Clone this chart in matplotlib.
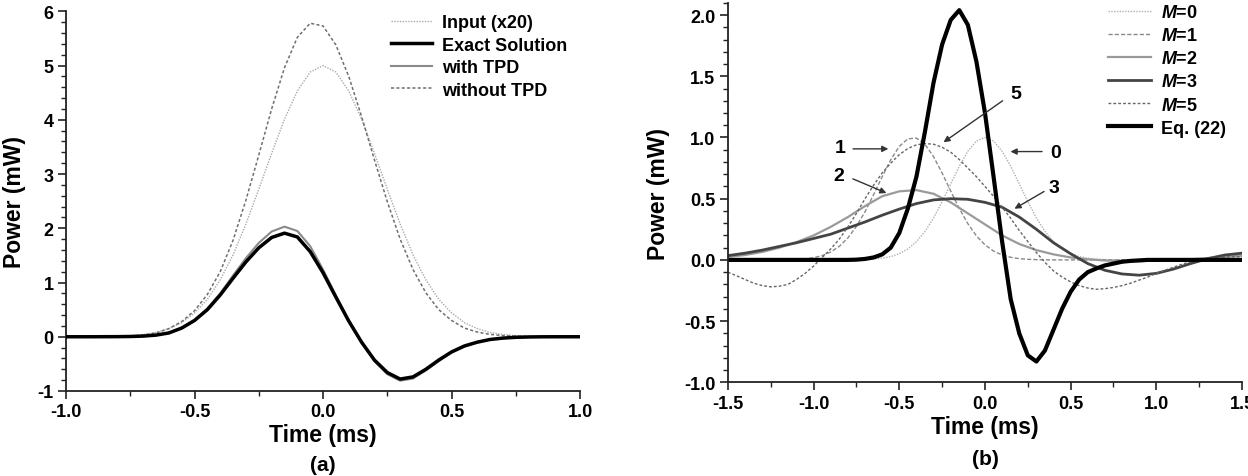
import matplotlib
matplotlib.use('Agg')
import matplotlib.pyplot as plt
from matplotlib.ticker import MultipleLocator, FormatStrFormatter

plt.rcParams['font.family'] = ['Liberation Sans', 'DejaVu Sans']
plt.rcParams['font.weight'] = 'bold'
plt.rcParams['axes.labelweight'] = 'bold'
plt.rcParams['axes.unicode_minus'] = False
plt.rcParams['mathtext.fontset'] = 'custom'
plt.rcParams['mathtext.it'] = 'Liberation Sans:italic:bold'
plt.rcParams['mathtext.rm'] = 'Liberation Sans:bold'

# ---- panel (a) data ----
t_a = [-1.0, -0.95, -0.9, -0.85, -0.8, -0.75, -0.7, -0.65, -0.6, -0.55,
       -0.5, -0.45, -0.4, -0.35, -0.3, -0.25, -0.2, -0.15, -0.1, -0.05,
       0.0, 0.05, 0.1, 0.15, 0.2, 0.25, 0.3, 0.35, 0.4, 0.45,
       0.5, 0.55, 0.6, 0.65, 0.7, 0.75, 0.8, 0.85, 0.9, 0.95, 1.0]
input_x20 = [0.0, 0.001, 0.002, 0.004, 0.01, 0.02, 0.042, 0.08, 0.15, 0.26,
             0.44, 0.69, 1.05, 1.51, 2.08, 2.72, 3.38, 4.01, 4.53, 4.88,
             5.0, 4.88, 4.53, 4.01, 3.38, 2.72, 2.08, 1.51, 1.05, 0.69,
             0.44, 0.26, 0.15, 0.08, 0.042, 0.02, 0.01, 0.004, 0.002, 0.001, 0.0]
exact = [0.0, 0.0, 0.0, 0.001, 0.002, 0.005, 0.012, 0.03, 0.07, 0.16,
         0.3, 0.5, 0.77, 1.08, 1.38, 1.64, 1.83, 1.91, 1.84, 1.57,
         1.18, 0.73, 0.29, -0.1, -0.43, -0.66, -0.78, -0.74, -0.6, -0.43,
         -0.28, -0.17, -0.1, -0.05, -0.025, -0.01, -0.004, -0.001, 0.0, 0.0, 0.0]
with_tpd = [0.0, 0.0, 0.0, 0.001, 0.002, 0.005, 0.013, 0.03, 0.07, 0.16,
            0.31, 0.52, 0.8, 1.13, 1.45, 1.73, 1.94, 2.03, 1.95, 1.67,
            1.24, 0.76, 0.3, -0.11, -0.45, -0.69, -0.81, -0.77, -0.62, -0.45,
            -0.29, -0.18, -0.1, -0.05, -0.025, -0.01, -0.004, -0.001, 0.0, 0.0, 0.0]
without_tpd = [0.0, 0.0, 0.001, 0.003, 0.006, 0.014, 0.033, 0.07, 0.15, 0.28,
               0.48, 0.78, 1.2, 1.78, 2.52, 3.35, 4.2, 4.96, 5.52, 5.78,
               5.73, 5.38, 4.8, 4.06, 3.26, 2.49, 1.8, 1.24, 0.81, 0.5,
               0.3, 0.16, 0.087, 0.044, 0.021, 0.01, 0.004, 0.002, 0.001, 0.0, 0.0]

# ---- panel (b) data ----
t_b = [-1.5, -1.45, -1.4, -1.35, -1.3, -1.25, -1.2, -1.15, -1.1, -1.05,
       -1.0, -0.95, -0.9, -0.85, -0.8, -0.75, -0.7, -0.65, -0.6, -0.55,
       -0.5, -0.45, -0.4, -0.35, -0.3, -0.25, -0.2, -0.15, -0.1, -0.05,
       0.0, 0.05, 0.1, 0.15, 0.2, 0.25, 0.3, 0.35, 0.4, 0.45,
       0.5, 0.55, 0.6, 0.65, 0.7, 0.75, 0.8, 0.85, 0.9, 0.95,
       1.0, 1.05, 1.1, 1.15, 1.2, 1.25, 1.3, 1.35, 1.4, 1.45, 1.5]
m0 = [0.0, 0.0, 0.0, 0.0, 0.0, 0.0, 0.0, 0.0, 0.0, 0.0,
      0.0, 0.0, 0.0, 0.0, 0.0, 0.001, 0.003, 0.007, 0.014, 0.027,
      0.051, 0.09, 0.149, 0.233, 0.343, 0.476, 0.621, 0.765, 0.888, 0.971,
      1.0, 0.971, 0.888, 0.765, 0.621, 0.476, 0.343, 0.233, 0.149, 0.09,
      0.051, 0.027, 0.014, 0.007, 0.003, 0.001, 0.0, 0.0, 0.0, 0.0,
      0.0, 0.0, 0.0, 0.0, 0.0, 0.0, 0.0, 0.0, 0.0, 0.0, 0.0]
m1 = [0.0, 0.0, 0.0, 0.0, 0.0, 0.001, 0.001, 0.002, 0.004, 0.009,
      0.018, 0.035, 0.065, 0.111, 0.18, 0.274, 0.394, 0.533, 0.68, 0.818,
      0.927, 0.989, 0.995, 0.943, 0.843, 0.709, 0.562, 0.42, 0.296, 0.196,
      0.123, 0.072, 0.04, 0.021, 0.01, 0.005, 0.002, 0.0, 0.0, 0.0,
      0.0, 0.0, 0.0, 0.0, 0.0, 0.0, 0.0, 0.0, 0.0, 0.0,
      0.0, 0.0, 0.0, 0.0, 0.0, 0.0, 0.0, 0.0, 0.0, 0.0, 0.0]
m5 = [-0.1, -0.13, -0.16, -0.19, -0.21, -0.22, -0.215, -0.2, -0.16, -0.11,
      -0.05, 0.02, 0.09, 0.17, 0.27, 0.38, 0.5, 0.61, 0.71, 0.79,
      0.86, 0.91, 0.94, 0.95, 0.945, 0.92, 0.88, 0.82, 0.75, 0.68,
      0.6, 0.52, 0.43, 0.34, 0.24, 0.15, 0.06, -0.02, -0.09, -0.14,
      -0.18, -0.21, -0.23, -0.24, -0.235, -0.225, -0.21, -0.19, -0.165, -0.14,
      -0.11, -0.085, -0.06, -0.035, -0.015, 0.0, 0.01, 0.018, 0.022, 0.025, 0.025]
eq22 = [0.0, 0.0, 0.0, 0.0, 0.0, 0.0, 0.0, 0.0, 0.0, 0.0,
        0.0, 0.0, 0.0, 0.0, 0.0, 0.002, 0.008, 0.02, 0.045, 0.1,
        0.22, 0.42, 0.68, 1.05, 1.45, 1.76, 1.96, 2.04, 1.92, 1.62,
        1.2, 0.68, 0.15, -0.32, -0.6, -0.78, -0.83, -0.74, -0.57, -0.4,
        -0.26, -0.16, -0.1, -0.07, -0.045, -0.03, -0.015, -0.008, -0.004, 0.0,
        0.0, 0.0, 0.0, 0.0, 0.0, 0.0, 0.0, 0.0, 0.0, 0.0, 0.0]

t_b2 = [-1.5, -1.4, -1.3, -1.2, -1.1, -1.0, -0.9, -0.8, -0.7, -0.6,
        -0.5, -0.4, -0.3, -0.2, -0.1, 0.0, 0.1, 0.2, 0.3, 0.4,
        0.5, 0.6, 0.7, 0.8, 0.9, 1.0, 1.1, 1.2, 1.3, 1.4, 1.5]
m2 = [0.025, 0.04, 0.065, 0.1, 0.145, 0.2, 0.27, 0.35, 0.44, 0.52,
      0.56, 0.57, 0.54, 0.47, 0.38, 0.29, 0.2, 0.13, 0.08, 0.045,
      0.02, 0.005, -0.005, -0.01, -0.01, -0.005, 0.0, 0.005, 0.015, 0.025, 0.035]
m3 = [0.035, 0.055, 0.08, 0.11, 0.14, 0.175, 0.21, 0.26, 0.31, 0.365,
      0.415, 0.46, 0.49, 0.5, 0.495, 0.47, 0.43, 0.35, 0.25, 0.14,
      0.05, -0.03, -0.085, -0.115, -0.125, -0.11, -0.075, -0.03, 0.01, 0.04, 0.055]


def style_axes(ax):
    for s in ['top', 'right']:
        ax.spines[s].set_visible(False)
    for s in ['left', 'bottom']:
        ax.spines[s].set_linewidth(1.3)
        ax.spines[s].set_color('#222222')
    ax.tick_params(which='major', direction='out', length=6, width=1.2,
                   color='#222222', labelsize=13, pad=3)
    ax.tick_params(which='minor', direction='out', length=3.5, width=1.0,
                   color='#222222')


fig = plt.figure(figsize=(12.48, 4.77), dpi=100)

# panel (a)
ax1 = fig.add_axes([0.0529, 0.1782, 0.4119, 0.796])
ax1.plot(t_a, input_x20, color='#aaaaaa', lw=1.0, linestyle=(0, (1, 1)),
         label='Input (x20)', zorder=2)
ax1.plot(t_a, exact, color='black', lw=2.5, label='Exact Solution', zorder=4)
ax1.plot(t_a, with_tpd, color='#8a8a8a', lw=1.5, label='with TPD', zorder=3)
ax1.plot(t_a, without_tpd, color='#6e6e6e', lw=1.1, linestyle=(0, (2, 1.5)),
         label='without TPD', zorder=2)
ax1.set_xlim(-1.0, 1.0)
ax1.set_ylim(-1, 6)
ax1.xaxis.set_major_locator(MultipleLocator(0.5))
ax1.xaxis.set_minor_locator(MultipleLocator(0.25))
ax1.yaxis.set_major_locator(MultipleLocator(1))
ax1.yaxis.set_minor_locator(MultipleLocator(0.2))
ax1.xaxis.set_major_formatter(FormatStrFormatter('%.1f'))
ax1.yaxis.set_major_formatter(FormatStrFormatter('%d'))
style_axes(ax1)
ax1.set_xlabel('Time (ms)', fontsize=16.5, labelpad=2)
ax1.set_ylabel('Power (mW)', fontsize=16.5, labelpad=8)
ax1.legend(loc='upper left', bbox_to_anchor=(0.632, 0.992), frameon=False,
           handlelength=2.3, handletextpad=0.55, labelspacing=0.3,
           borderpad=0, borderaxespad=0, fontsize=13)
fig.text(323 / 1248, 1 - 466 / 477, '(a)', ha='center', va='center', fontsize=15)

# panel (b)
ax2 = fig.add_axes([0.5833, 0.1964, 0.4119, 0.7956])
ax2.plot(t_b, m0, color='#b0b0b0', lw=1.0, linestyle=(0, (1, 1)), label='$M$=0')
ax2.plot(t_b, m1, color='#8a8a8a', lw=1.0, linestyle=(0, (3, 1.5)), label='$M$=1')
ax2.plot(t_b2, m2, color='#9a9a9a', lw=1.6, label='$M$=2')
ax2.plot(t_b2, m3, color='#444444', lw=2.0, label='$M$=3')
ax2.plot(t_b, m5, color='#666666', lw=1.0, linestyle=(0, (2, 1.5)), label='$M$=5')
ax2.plot(t_b, eq22, color='black', lw=3.0, label='Eq. (22)')
ax2.set_xlim(-1.5, 1.5)
ax2.set_ylim(-1.0, 2.1)
ax2.xaxis.set_major_locator(MultipleLocator(0.5))
ax2.xaxis.set_minor_locator(MultipleLocator(0.25))
ax2.yaxis.set_major_locator(MultipleLocator(0.5))
ax2.yaxis.set_minor_locator(MultipleLocator(0.1))
ax2.xaxis.set_major_formatter(FormatStrFormatter('%.1f'))
ax2.yaxis.set_major_formatter(FormatStrFormatter('%.1f'))
style_axes(ax2)
ax2.set_xlabel('Time (ms)', fontsize=16.5, labelpad=2)
ax2.set_ylabel('Power (mW)', fontsize=16.5, labelpad=10)
ax2.legend(loc='upper left', bbox_to_anchor=(0.739, 0.997), frameon=False,
           handlelength=2.4, handletextpad=0.55, labelspacing=0.34,
           borderpad=0, borderaxespad=0, fontsize=13)
fig.text(985 / 1248, 1 - 460 / 477, '(b)', ha='center', va='center', fontsize=15)

arrow = dict(arrowstyle='-|>', color='#333333', lw=1.0, mutation_scale=9,
             shrinkA=0, shrinkB=0)
notes = [('1', (-0.844, 0.92), (-0.77, 0.907), (-0.564, 0.907)),
         ('2', (-0.851, 0.69), (-0.771, 0.662), (-0.575, 0.546)),
         ('5', (0.18, 1.36), (0.103, 1.30), (-0.242, 0.961)),
         ('0', (0.41, 0.876), (0.333, 0.885), (0.149, 0.885)),
         ('3', (0.40, 0.595), (0.345, 0.559), (0.172, 0.418))]
for txt, pos, tail, tip in notes:
    ax2.annotate('', xy=tip, xytext=tail, arrowprops=arrow)
    ax2.text(pos[0], pos[1], txt, ha='center', va='center', fontsize=14)

fig.savefig('out.png', dpi=100)
